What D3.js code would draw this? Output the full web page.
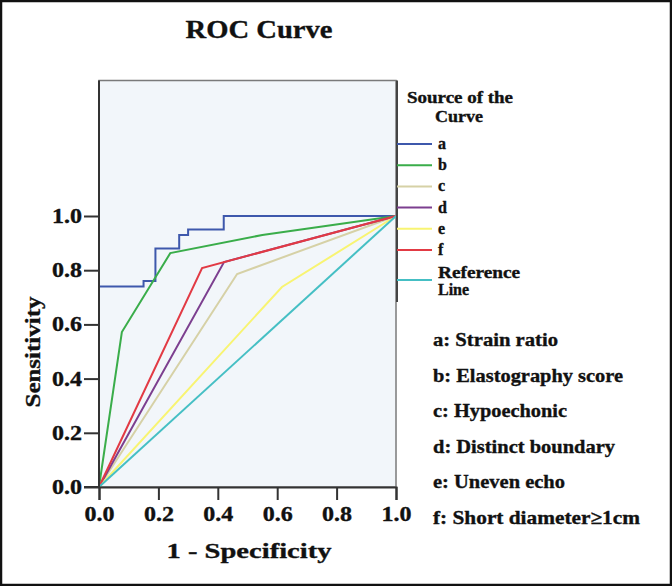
<!DOCTYPE html>
<html>
<head>
<meta charset="utf-8">
<script src="https://cdn.jsdelivr.net/npm/d3@7"></script>
<style>
  html, body { margin: 0; padding: 0; background: #fff; }
  svg { display: block; }
  text { font-family: "Liberation Serif", "Times New Roman", serif; font-weight: bold; fill: #111; stroke: #111; stroke-width: 0.35px; }
</style>
</head>
<body>
<div id="chart"></div>
<script>
// ---------------- DATA ----------------
const categories = ["a", "b", "c", "d", "e", "f"];
const categoryNames = ["Strain ratio", "Elastography score", "Hypoechonic", "Distinct boundary", "Uneven echo", "Short diameter\u22651cm"];
const colors = ["#3e58ac", "#3aad4a", "#d6d1a6", "#7c3f8f", "#f8f472", "#e23a44"];
const refColor = "#45bfc4";

// 1 - specificity (x) and sensitivity (y) for each curve
const fprA = [0, 0, 0.15, 0.15, 0.19, 0.19, 0.27, 0.27, 0.30, 0.30, 0.42, 0.42, 1];
const sensA = [0, 0.74, 0.74, 0.76, 0.76, 0.88, 0.88, 0.93, 0.93, 0.95, 0.95, 1, 1];
const fprB = [0, 0.077, 0.24, 0.55, 1];
const sensB = [0, 0.572, 0.863, 0.93, 1];
const fprC = [0, 0.465, 1];
const sensC = [0, 0.786, 1];
const fprD = [0, 0.421, 1];
const sensD = [0, 0.830, 1];
const fprE = [0, 0.616, 1];
const sensE = [0, 0.738, 1];
const fprF = [0, 0.347, 1];
const sensF = [0, 0.808, 1];
const fprRef = [0, 1];
const sensRef = [0, 1];

const xTicks = [0, 0.2, 0.4, 0.6, 0.8, 1.0];
const yTicks = [0, 0.2, 0.4, 0.6, 0.8, 1.0];

const titleText = "ROC Curve";
const xTitle = "1 - Specificity";
const yTitle = "Sensitivity";
const legendTitle = ["Source of the", "Curve"];
const refLabel = ["Reference", "Line"];

// ---------------- CHART ----------------
const W = 672, H = 586;
const svg = d3.select("#chart").append("svg").attr("width", W).attr("height", H);

// outer frame
svg.append("rect").attr("x", 1).attr("y", 1).attr("width", W - 2).attr("height", H - 2)
  .attr("fill", "#fff").attr("stroke", "#111").attr("stroke-width", 2.5);

const x = d3.scaleLinear().domain([0, 1]).range([99, 396]);
const y = d3.scaleLinear().domain([0, 1]).range([487, 216]);
const yTop = 1.5;

// plot background
svg.append("rect")
  .attr("x", x(0)).attr("y", y(yTop))
  .attr("width", x(1) - x(0)).attr("height", y(0) - y(yTop))
  .attr("fill", "#f2f6fa").attr("stroke", "#7a7a7a").attr("stroke-width", 1.5);

// title
svg.append("text").attr("x", 259).attr("y", 38).attr("text-anchor", "middle")
  .attr("font-size", 26).attr("textLength", 147).attr("lengthAdjust", "spacingAndGlyphs")
  .text(titleText);

// curves
const series = [
  { fpr: fprA, sens: sensA, color: colors[0] },
  { fpr: fprB, sens: sensB, color: colors[1] },
  { fpr: fprC, sens: sensC, color: colors[2] },
  { fpr: fprD, sens: sensD, color: colors[3] },
  { fpr: fprE, sens: sensE, color: colors[4] },
  { fpr: fprF, sens: sensF, color: colors[5] },
  { fpr: fprRef, sens: sensRef, color: refColor }
];
const line = d3.line().x(d => x(d[0])).y(d => y(d[1]));
svg.append("g").selectAll("path").data(series).join("path")
  .attr("d", s => line(s.fpr.map((v, i) => [v, s.sens[i]])))
  .attr("fill", "none").attr("stroke", s => s.color).attr("stroke-width", 2)
  .attr("stroke-linejoin", "miter");

// axes
const fmt = d3.format(".1f");
const gx = svg.append("g").attr("transform", `translate(0,${y(0)})`)
  .call(d3.axisBottom(x).tickValues(xTicks).tickFormat(fmt).tickSize(13).tickPadding(7));
const gy = svg.append("g").attr("transform", `translate(${x(0)},0)`)
  .call(d3.axisLeft(y).tickValues(yTicks).tickFormat(fmt).tickSize(15).tickPadding(2));
[gx, gy].forEach(g => {
  g.select(".domain").attr("stroke", "#333").attr("stroke-width", 2);
  g.selectAll(".tick line").attr("stroke", "#333").attr("stroke-width", 2);
  g.selectAll(".tick text").attr("font-size", 20).attr("fill", "#111")
    .attr("font-family", "'Liberation Serif', serif").attr("font-weight", "bold")
    .attr("textLength", 30).attr("lengthAdjust", "spacingAndGlyphs");
});
gy.select(".domain").attr("d", `M-15,${y(0)}H0V${y(yTop)}`);

// axis titles
svg.append("text").attr("x", 249).attr("y", 558).attr("text-anchor", "middle")
  .attr("font-size", 22).attr("textLength", 165).attr("lengthAdjust", "spacingAndGlyphs")
  .text(xTitle);
svg.append("text").attr("transform", "translate(40,352) rotate(-90)").attr("text-anchor", "middle")
  .attr("font-size", 22).attr("textLength", 111).attr("lengthAdjust", "spacingAndGlyphs")
  .text(yTitle);

// legend
const lg = svg.append("g");
lg.append("line").attr("x1", 397).attr("x2", 397).attr("y1", y(yTop)).attr("y2", 302)
  .attr("stroke", "#444").attr("stroke-width", 2);
lg.append("text").attr("x", 460).attr("y", 103).attr("text-anchor", "middle").attr("font-size", 16)
  .attr("textLength", 106).attr("lengthAdjust", "spacingAndGlyphs").text(legendTitle[0]);
lg.append("text").attr("x", 459).attr("y", 122).attr("text-anchor", "middle").attr("font-size", 16)
  .attr("textLength", 48).attr("lengthAdjust", "spacingAndGlyphs").text(legendTitle[1]);
const legItems = categories.map((c, i) => ({ label: c, color: colors[i] }));
const legY = d3.scaleLinear().domain([0, 5]).range([144, 250]);
legItems.forEach((d, i) => {
  lg.append("line").attr("x1", 397).attr("x2", 432).attr("y1", legY(i)).attr("y2", legY(i))
    .attr("stroke", d.color).attr("stroke-width", 2);
  lg.append("text").attr("x", 438).attr("y", legY(i) + 5).attr("font-size", 16).text(d.label);
});
lg.append("line").attr("x1", 397).attr("x2", 432).attr("y1", 280).attr("y2", 280)
  .attr("stroke", refColor).attr("stroke-width", 2);
lg.append("text").attr("x", 438).attr("y", 278).attr("font-size", 16)
  .attr("textLength", 82).attr("lengthAdjust", "spacingAndGlyphs").text(refLabel[0]);
lg.append("text").attr("x", 438).attr("y", 295).attr("font-size", 16).text(refLabel[1]);

// annotations
const annWidths = [125, 190, 134, 182, 132, 207];
const annY = d3.scaleLinear().domain([0, 5]).range([346, 524]);
categories.forEach((c, i) => {
  svg.append("text").attr("x", 433).attr("y", annY(i)).attr("font-size", 19)
    .attr("textLength", annWidths[i]).attr("lengthAdjust", "spacingAndGlyphs")
    .text(`${c}: ${categoryNames[i]}`);
});
</script>
</body>
</html>
